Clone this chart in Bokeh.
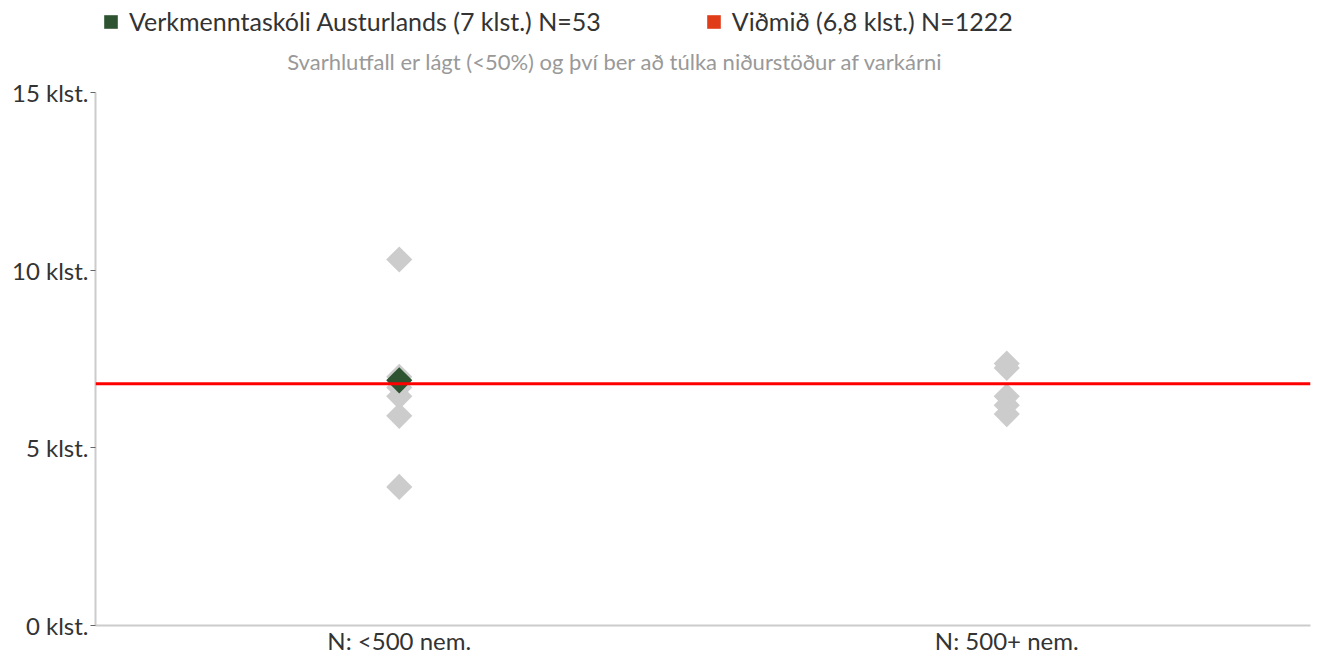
import math
from bokeh.plotting import figure
from bokeh.layouts import column
from bokeh.models import FactorRange, FixedTicker, Span, Label, Legend, LegendItem
from bokeh.embed import file_html
from bokeh.resources import INLINE

FONT = "Lato"

categories = ["N: <500 nem.", "N: 500+ nem."]
other_cat = ["N: <500 nem."] * 6 + ["N: 500+ nem."] * 5
other_val = [10.3, 7.0, 6.7, 6.45, 5.9, 3.9, 7.37, 7.25, 6.45, 6.2, 5.95]
school_cat = ["N: <500 nem."]
school_val = [6.9]
benchmark = 6.8
y_ticks = [0, 5, 10, 15]
y_tick_labels = {0: "0 klst.", 5: "5 klst.", 10: "10 klst.", 15: "15 klst."}
legend_labels = ["Verkmenntaskóli Austurlands (7 klst.) N=53", "Viðmið (6,8 klst.) N=1222"]
subtitle = "Svarhlutfall er lágt (<50%) og því ber að túlka niðurstöður af varkárni"

GREEN = "#2d5330"
RED_LEG = "#e03c1a"
GRAY = "#cccccc"

W = 1316
HEAD_H = 76
LEFT = 95
RIGHT = 6

# ---- header (legend + subtitle) ----
h = figure(width=W, height=HEAD_H, x_range=(LEFT, W - RIGHT), y_range=(HEAD_H, 0),
           x_axis_type=None, y_axis_type=None, output_backend="svg", toolbar_location=None,
           min_border_left=LEFT, min_border_right=RIGHT, min_border_top=0, min_border_bottom=0)
h.outline_line_color = None
h.grid.grid_line_color = None
h.title.visible = False
# legend-only glyphs (placed outside the visible range)
r1 = h.quad(left=[-1000], right=[-999], bottom=[-1000], top=[-999],
            fill_color=GREEN, line_color=None)
r2 = h.quad(left=[-1000], right=[-999], bottom=[-1000], top=[-999],
            fill_color=RED_LEG, line_color=None)
leg = Legend(items=[LegendItem(label=legend_labels[0], renderers=[r1]),
                    LegendItem(label=legend_labels[1], renderers=[r2])],
             orientation="horizontal", location=(7, HEAD_H - 36), spacing=104,
             label_text_font=FONT, label_text_font_size="25px", label_text_color="#333333",
             glyph_width=17, glyph_height=17, label_standoff=10, padding=0, margin=0,
             border_line_color=None, background_fill_alpha=0, label_height=22)
h.add_layout(leg, "center")
h.add_layout(Label(x=615, y=61, text=subtitle, text_align="center", text_baseline="middle",
                   text_font=FONT, text_font_size="22px", text_color="#999999"))

# ---- main plot ----
p = figure(width=W, height=657 - HEAD_H, x_range=FactorRange(*categories), y_range=(0, 15),
           output_backend="svg", toolbar_location=None,
           min_border_left=LEFT, min_border_right=RIGHT, min_border_top=92 - HEAD_H,
           min_border_bottom=28)
p.outline_line_color = None
p.grid.grid_line_color = None
p.title.visible = False

p.scatter(x=other_cat, y=other_val, marker="square", angle=math.pi / 4, size=18.5,
          fill_color=GRAY, line_color=None)
p.add_layout(Span(location=benchmark, dimension="width", line_color="#ff0000", line_width=3))
p.scatter(x=school_cat, y=school_val, marker="square", angle=math.pi / 4, size=18.5,
          fill_color=GREEN, line_color=None)

p.yaxis.ticker = FixedTicker(ticks=y_ticks)
p.yaxis.major_label_overrides = y_tick_labels
p.yaxis.major_label_text_font = FONT
p.yaxis.major_label_text_font_size = "24px"
p.yaxis.major_label_text_color = "#333333"
p.yaxis.axis_line_color = GRAY
p.yaxis.axis_line_width = 2
p.yaxis.major_tick_in = 0
p.yaxis.major_tick_out = 5
p.yaxis.major_tick_line_color = "#666666"
p.yaxis.minor_tick_line_color = None
p.yaxis.major_label_standoff = 2

p.xaxis.axis_line_color = GRAY
p.xaxis.axis_line_width = 2
p.xaxis.major_tick_line_color = None
p.xaxis.major_tick_out = 0
p.xaxis.major_tick_in = 0
p.xaxis.minor_tick_line_color = None
p.xaxis.major_label_text_font = FONT
p.xaxis.major_label_text_font_size = "24px"
p.xaxis.major_label_text_color = "#333333"
p.xaxis.major_label_standoff = 0

layout = column(h, p, spacing=0)
open("out.html", "w").write(file_html(layout, INLINE))
